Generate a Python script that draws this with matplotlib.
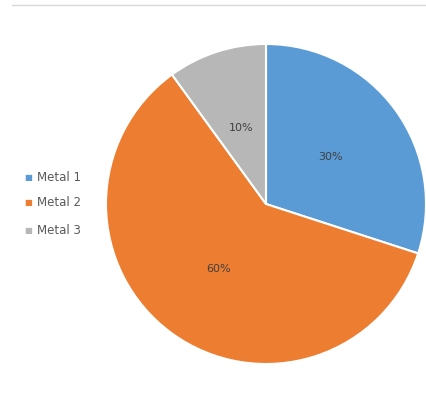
import matplotlib
matplotlib.use("Agg")
import matplotlib.pyplot as plt
from matplotlib.lines import Line2D

labels = ["Metal 1", "Metal 2", "Metal 3"]
values = [30, 60, 10]
colors = ["#5B9BD5", "#ED7D31", "#B7B7B7"]

W, H = 426, 396
fig = plt.figure(figsize=(W / 100, H / 100), dpi=100)

# thin rule across the top
fig.add_artist(Line2D([12 / W, 1], [1 - 4.5 / H, 1 - 4.5 / H], color="#D9D9D9", lw=1))

cx, cy, r = 266, 204, 160
ax = fig.add_axes([(cx - r) / W, (H - cy - r) / H, 2 * r / W, 2 * r / H])
wedges, _, autotexts = ax.pie(
    values, colors=colors, startangle=90, counterclock=False,
    autopct="%1.0f%%", pctdistance=0.5,
    wedgeprops=dict(edgecolor="white", linewidth=1.5),
    textprops=dict(color="#404040", fontsize=8),
)
ax.set_xlim(-1, 1)
ax.set_ylim(-1, 1)
ax.set_aspect("equal")

# legend on the left
for lab, col, y in zip(labels, colors, [177, 203, 230]):
    fig.text(28 / W, 1 - y / H, "\u25A0", color=col, fontsize=6, ha="center", va="center")
    fig.text(37 / W, 1 - y / H, lab, color="#595959", fontsize=8.5, ha="left", va="center")

fig.savefig("out.png", dpi=100)
